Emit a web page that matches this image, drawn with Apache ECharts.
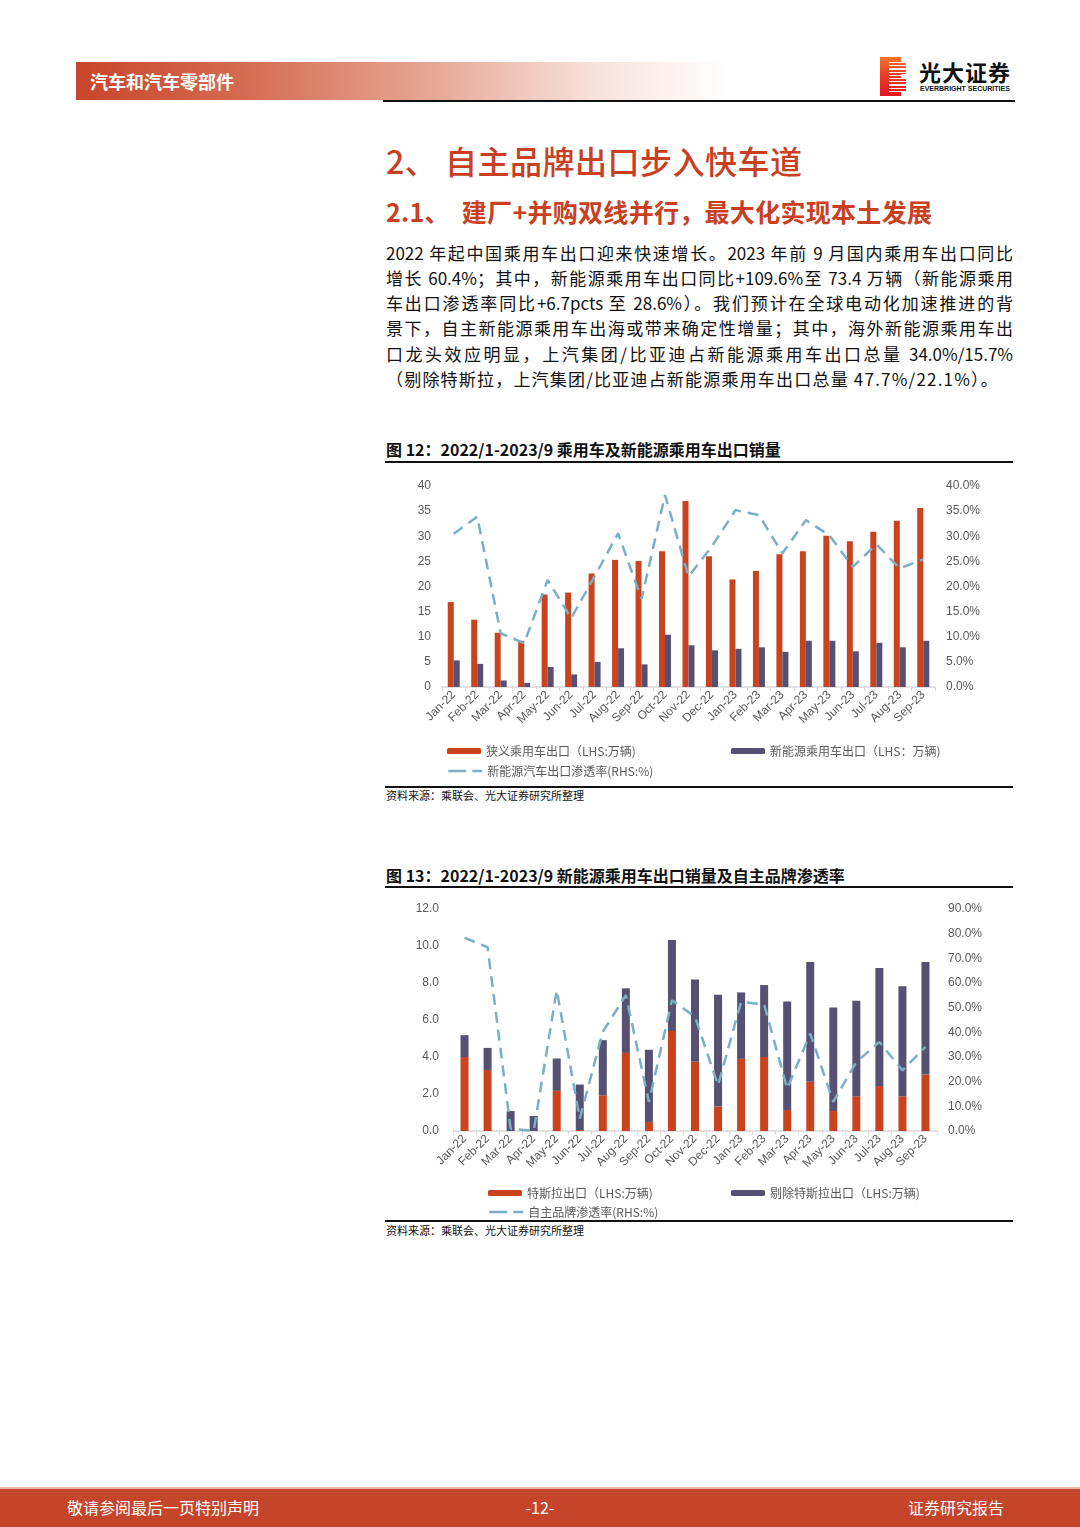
<!DOCTYPE html>
<html>
<head>
<meta charset="utf-8">
<script src="https://cdn.jsdelivr.net/npm/echarts@6/dist/echarts.min.js"></script>
<style>
  html,body{margin:0;padding:0;background:#fff;}
  body{width:1080px;height:1527px;position:relative;overflow:hidden;font-family:"Noto Sans CJK SC","Noto Sans",sans-serif;color:#111;}
  .abs{position:absolute;}
  .body-line{position:absolute;left:386px;width:627px;font-size:17px;line-height:25px;height:25px;white-space:nowrap;text-align:justify;text-align-last:justify;color:#111;}
  .hr{position:absolute;left:385px;width:628px;height:2px;background:#111;}
  .figtitle{position:absolute;left:386px;font-size:16px;font-weight:700;line-height:20px;color:#111;white-space:nowrap;}
  .source{position:absolute;left:386px;font-size:11px;line-height:14px;color:#111;white-space:nowrap;}
</style>
</head>
<body>
<!-- header -->
<div class="abs" style="left:76px;top:62px;width:650px;height:38px;background:linear-gradient(90deg,#c8452a 0%,#d46a50 25%,#e6a896 55%,#f7e2dc 80%,#ffffff 100%);"></div>
<div class="abs" style="left:90px;top:69px;font-size:18px;font-weight:700;color:#fff;line-height:24px;">汽车和汽车零部件</div>
<div class="abs" style="left:383px;top:100px;width:632px;height:2px;background:#111;"></div>
<!-- logo -->
<div class="abs" style="left:880px;top:57px;width:26px;height:39px;background:linear-gradient(180deg,#f4742a 0%,#ee3a24 50%,#e3141f 100%);"></div>
<div class="abs" style="left:889px;top:60px;width:17px;height:33px;background:repeating-linear-gradient(180deg,rgba(255,255,255,0) 0px,rgba(255,255,255,0) 2px,#fff 2px,#fff 3.2px);"></div>
<div class="abs" style="left:901px;top:57px;width:6px;height:6px;background:#fff;"></div>
<div class="abs" style="left:901px;top:74px;width:6px;height:4px;background:#fff;"></div>
<div class="abs" style="left:901px;top:91px;width:6px;height:6px;background:#fff;"></div>
<div class="abs" style="left:919px;top:57px;font-size:22px;font-weight:700;line-height:28px;color:#111;letter-spacing:1px;">光大证券</div>
<div class="abs" style="left:920px;top:85px;font-size:7px;line-height:8px;color:#111;font-family:'Liberation Sans',sans-serif;font-weight:700;letter-spacing:0px;">EVERBRIGHT SECURITIES</div>

<!-- titles -->
<div class="abs" style="left:386px;top:138px;font-size:32px;line-height:44px;color:#c8401f;font-weight:500;white-space:nowrap;letter-spacing:0.5px;">2、 自主品牌出口步入快车道</div>
<div class="abs" style="left:386px;top:195px;font-size:25px;line-height:32px;color:#c8401f;font-weight:700;white-space:nowrap;letter-spacing:0.3px;">2.1、&nbsp;&nbsp;建厂+并购双线并行，最大化实现本土发展</div>

<!-- body text -->
<div class="body-line" style="top:240px;">2022 年起中国乘用车出口迎来快速增长。2023 年前 9 月国内乘用车出口同比</div>
<div class="body-line" style="top:265px;">增长 60.4%；其中，新能源乘用车出口同比+109.6%至 73.4 万辆（新能源乘用</div>
<div class="body-line" style="top:290px;">车出口渗透率同比+6.7pcts 至 28.6%）。我们预计在全球电动化加速推进的背</div>
<div class="body-line" style="top:315px;">景下，自主新能源乘用车出海或带来确定性增量；其中，海外新能源乘用车出</div>
<div class="body-line" style="top:341px;">口龙头效应明显，上汽集团/比亚迪占新能源乘用车出口总量 34.0%/15.7%</div>
<div class="body-line" style="top:366px;text-align:left;text-align-last:left;letter-spacing:1.2px;">（剔除特斯拉，上汽集团/比亚迪占新能源乘用车出口总量 47.7%/22.1%）。</div>

<!-- figure 12 -->
<div class="figtitle" style="top:439px;">图 12：2022/1-2023/9 乘用车及新能源乘用车出口销量</div>
<div class="hr" style="top:461px;"></div>
<div id="c1" class="abs" style="left:385px;top:470px;width:630px;height:315px;"></div>
<div class="hr" style="top:786px;"></div>
<div class="source" style="top:788px;">资料来源：乘联会、光大证券研究所整理</div>

<!-- figure 13 -->
<div class="figtitle" style="top:865px;">图 13：2022/1-2023/9 新能源乘用车出口销量及自主品牌渗透率</div>
<div class="hr" style="top:886px;"></div>
<div id="c2" class="abs" style="left:385px;top:895px;width:630px;height:325px;"></div>
<div class="hr" style="top:1220px;"></div>
<div class="source" style="top:1223px;">资料来源：乘联会、光大证券研究所整理</div>

<!-- footer -->
<div class="abs" style="left:0;top:1487px;width:1080px;height:2px;background:#e8b3a5;"></div>
<div class="abs" style="left:0;top:1489px;width:1080px;height:38px;background:#c5452a;"></div>
<div class="abs" style="left:67px;top:1496px;font-size:16px;line-height:22px;color:#fff;">敬请参阅最后一页特别声明</div>
<div class="abs" style="left:500px;width:80px;text-align:center;top:1496px;font-size:16px;line-height:22px;color:#fff;">-12-</div>
<div class="abs" style="left:908px;top:1496px;font-size:16px;line-height:22px;color:#fff;">证券研究报告</div>

<script>
const categories = ['Jan-22','Feb-22','Mar-22','Apr-22','May-22','Jun-22','Jul-22','Aug-22','Sep-22','Oct-22','Nov-22','Dec-22','Jan-23','Feb-23','Mar-23','Apr-23','May-23','Jun-23','Jul-23','Aug-23','Sep-23'];

// Figure 12
const passengerExports = [16.9,13.4,10.8,9.2,18.4,18.8,22.6,25.3,25.1,27.0,37.0,26.0,21.4,23.1,26.4,27.0,30.1,29.0,30.9,33.1,35.6];
const nevExports = [5.3,4.6,1.3,0.8,4.0,2.5,5.0,7.7,4.5,10.4,8.3,7.3,7.6,7.9,7.0,9.2,9.2,7.1,8.8,7.9,9.2];
const nevPenetration = [30.5,33.9,10.7,8.7,21.3,13.7,22.0,30.6,17.5,38.2,22.0,28.0,35.2,34.2,26.6,33.2,30.2,23.9,28.4,23.6,25.4];

// Figure 13
const teslaExports = [4.0,3.3,0,0,2.17,0.05,1.93,4.22,0.49,5.4,3.75,1.32,3.9,4.0,1.14,2.66,1.08,1.88,2.43,1.88,3.05];
const nonTeslaExports = [1.18,1.19,1.08,0.81,1.75,2.46,2.98,3.49,3.9,4.92,4.44,6.04,3.59,3.89,5.86,6.47,5.6,5.16,6.38,5.95,6.08];
const domesticShare = [78.3,74.5,1.0,0.0,57.1,5.0,40.2,55.1,11.8,53.0,46.3,18.5,52.4,51.3,17.2,39.5,11.8,28.0,36.1,24.6,34.1];

const names1 = ['狭义乘用车出口（LHS:万辆)','新能源乘用车出口（LHS：万辆)','新能源汽车出口渗透率(RHS:%)'];
const names2 = ['特斯拉出口（LHS:万辆)','剔除特斯拉出口（LHS:万辆)','自主品牌渗透率(RHS:%)'];

const RED = '#c9431f', PURPLE = '#565173', BLUE = '#7bafc6';
const AX_FONT = '"Liberation Sans","Noto Sans CJK SC",sans-serif';
const LBL = {color:'#595959', fontSize:12, fontFamily:AX_FONT};

function xAxis(){
  return {
    type:'category', data:categories,
    axisLine:{lineStyle:{color:'#d9d9d9', width:1.5}},
    axisTick:{show:true, length:4, lineStyle:{color:'#d9d9d9'}},
    axisLabel:Object.assign({rotate:45, interval:0, margin:6}, LBL)
  };
}
function legendItem(name, left, top, isLine){
  const l = {data:[name], left:left, top:top, itemWidth:34, itemHeight:6, itemGap:4, padding:0,
    textStyle:{color:'#595959', fontSize:12, fontFamily:'"Noto Sans CJK SC",sans-serif'}};
  if (isLine) { l.itemStyle = {opacity:0}; l.lineStyle = {color:BLUE, width:2.5, type:[18,6]}; }
  return l;
}

const c1 = echarts.init(document.getElementById('c1'), null, {renderer:'canvas'});
c1.setOption({
  animation:false,
  grid:{left:57, right:80, top:16, bottom:98},
  legend:[legendItem(names1[0],62,275), legendItem(names1[1],346,275), legendItem(names1[2],62,295,true)],
  xAxis:xAxis(),
  yAxis:[
    {type:'value', min:0, max:40, interval:5, splitLine:{show:false}, axisLine:{show:false}, axisTick:{show:false},
     axisLabel:Object.assign({margin:11}, LBL)},
    {type:'value', min:0, max:40, interval:5, splitLine:{show:false}, axisLine:{show:false}, axisTick:{show:false},
     axisLabel:Object.assign({margin:11, formatter:v=>v.toFixed(1)+'%'}, LBL)}
  ],
  series:[
    {name:names1[0], type:'bar', data:passengerExports, barWidth:6, barGap:'0%', itemStyle:{color:RED}},
    {name:names1[1], type:'bar', data:nevExports, barWidth:6, barGap:'0%', itemStyle:{color:PURPLE}},
    {name:names1[2], type:'line', yAxisIndex:1, data:nevPenetration, symbol:'none', showSymbol:false,
     lineStyle:{color:BLUE, width:2.5, type:[11,7]}, itemStyle:{color:BLUE}}
  ]
});

const c2 = echarts.init(document.getElementById('c2'), null, {renderer:'canvas'});
c2.setOption({
  animation:false,
  grid:{left:68, right:78, top:14, bottom:89},
  legend:[legendItem(names2[0],103,292), legendItem(names2[1],346,292), legendItem(names2[2],103,311,true)],
  xAxis:xAxis(),
  yAxis:[
    {type:'value', min:0, max:12, interval:2, splitLine:{show:false}, axisLine:{show:false}, axisTick:{show:false},
     axisLabel:Object.assign({margin:14, formatter:v=>v.toFixed(1)}, LBL)},
    {type:'value', min:0, max:90, interval:10, splitLine:{show:false}, axisLine:{show:false}, axisTick:{show:false},
     axisLabel:Object.assign({margin:11, formatter:v=>v.toFixed(1)+'%'}, LBL)}
  ],
  series:[
    {name:names2[0], type:'bar', stack:'ev', data:teslaExports, barWidth:8, itemStyle:{color:RED}},
    {name:names2[1], type:'bar', stack:'ev', data:nonTeslaExports, barWidth:8, itemStyle:{color:PURPLE}},
    {name:names2[2], type:'line', yAxisIndex:1, data:domesticShare, symbol:'none', showSymbol:false,
     lineStyle:{color:BLUE, width:2.5, type:[11,7]}, itemStyle:{color:BLUE}}
  ]
});
</script>
</body>
</html>
